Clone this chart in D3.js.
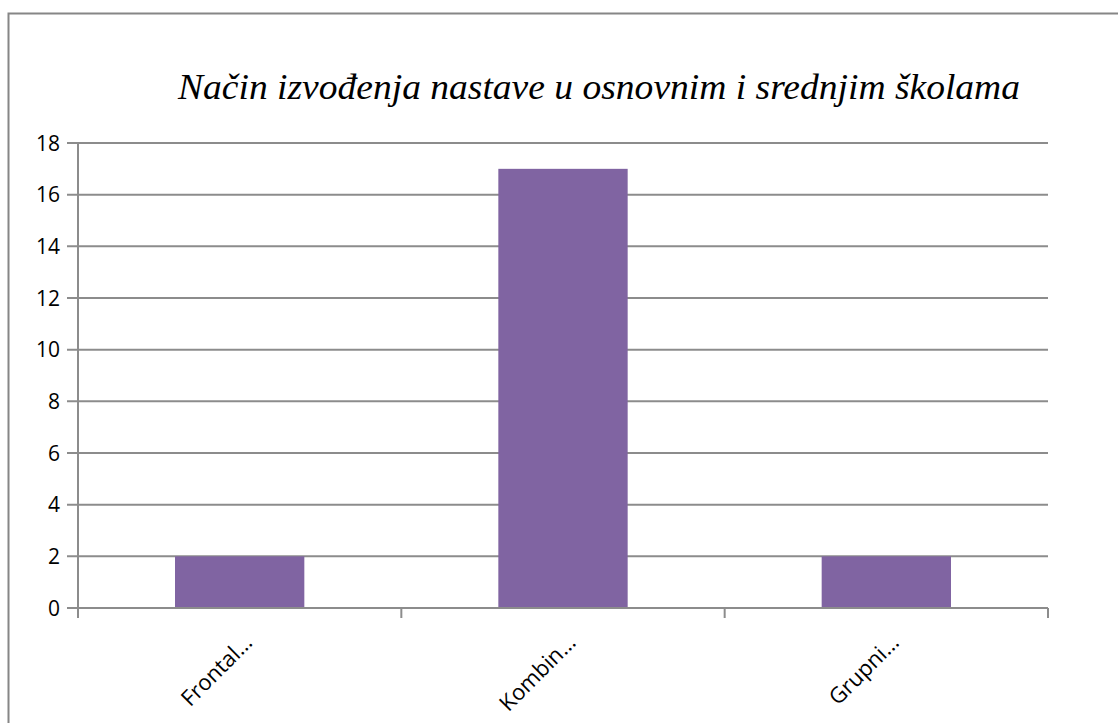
<!DOCTYPE html>
<html>
<head>
<meta charset="utf-8">
<script src="https://cdn.jsdelivr.net/npm/d3@7"></script>
<style>
  body { margin: 0; background: #fff; }
</style>
</head>
<body>
<div id="chart"></div>
<script>
// data
const categories = ["Frontal…", "Kombin…", "Grupni…"];
const values = [2, 17, 2];
const yTicks = [0, 2, 4, 6, 8, 10, 12, 14, 16, 18];
const title = "Način izvođenja nastave u osnovnim i srednjim školama";

const width = 1118, height = 723;
const svg = d3.select("#chart").append("svg")
  .attr("width", width)
  .attr("height", height);

// outer chart frame
svg.append("rect")
  .attr("x", 8.5).attr("y", 13.5)
  .attr("width", 1130).attr("height", 730)
  .attr("fill", "none")
  .attr("stroke", "#868686")
  .attr("stroke-width", 2);

const margin = {left: 78, right: 70, top: 143, bottom: 115};
const plotW = width - margin.left - margin.right;
const plotH = height - margin.top - margin.bottom;

const x = d3.scaleBand()
  .domain(categories)
  .range([margin.left, margin.left + plotW])
  .paddingInner(0.6)
  .paddingOuter(0.3);

const y = d3.scaleLinear()
  .domain([0, 18])
  .range([margin.top + plotH, margin.top]);

// gridlines
svg.append("g")
  .selectAll("line")
  .data(yTicks)
  .enter()
  .append("line")
    .attr("x1", margin.left - 11)
    .attr("x2", margin.left + plotW)
    .attr("y1", d => y(d))
    .attr("y2", d => y(d))
    .attr("stroke", "#8c8c8c")
    .attr("stroke-width", 2);

// y tick labels
svg.append("g")
  .selectAll("text")
  .data(yTicks)
  .enter()
  .append("text")
    .attr("x", margin.left - 18)
    .attr("y", d => y(d))
    .attr("dy", "0.36em")
    .attr("text-anchor", "end")
    .style("font-family", "'Open Sans', sans-serif")
    .style("font-size", "21px")
    .attr("fill", "#000")
    .text(d => d);

// bars
svg.append("g")
  .selectAll("rect")
  .data(values)
  .enter()
  .append("rect")
    .attr("x", (d, i) => x(categories[i]))
    .attr("y", d => y(d))
    .attr("width", x.bandwidth())
    .attr("height", d => y(0) - y(d))
    .attr("fill", "#8064a2");

// y axis line
svg.append("line")
  .attr("x1", margin.left).attr("x2", margin.left)
  .attr("y1", margin.top).attr("y2", y(0) + 10)
  .attr("stroke", "#8c8c8c")
  .attr("stroke-width", 2);

// x axis line + category boundary ticks
svg.append("line")
  .attr("x1", margin.left).attr("x2", margin.left + plotW)
  .attr("y1", y(0)).attr("y2", y(0))
  .attr("stroke", "#8c8c8c")
  .attr("stroke-width", 2);

const step = plotW / categories.length;
const bounds = d3.range(categories.length + 1).map(i => margin.left + i * step);
svg.append("g")
  .selectAll("line")
  .data(bounds)
  .enter()
  .append("line")
    .attr("x1", d => d).attr("x2", d => d)
    .attr("y1", y(0)).attr("y2", y(0) + 10)
    .attr("stroke", "#8c8c8c")
    .attr("stroke-width", 2);

// category labels, rotated
svg.append("g")
  .selectAll("text")
  .data(categories)
  .enter()
  .append("text")
    .attr("transform", d => "translate(" + (x(d) + x.bandwidth() / 2 + 14) + "," + (y(0) + 36) + ") rotate(-45)")
    .attr("text-anchor", "end")
    .style("font-family", "'Open Sans', sans-serif")
    .style("font-size", "22px")
    .attr("fill", "#000")
    .text(d => d);

// title
svg.append("text")
  .attr("x", 178)
  .attr("y", 99)
  .attr("textLength", 842)
  .attr("lengthAdjust", "spacingAndGlyphs")
  .style("font-family", "'Liberation Serif', 'Times New Roman', serif")
  .style("font-style", "italic")
  .style("font-size", "36px")
  .attr("fill", "#000")
  .text(title);
</script>
</body>
</html>
